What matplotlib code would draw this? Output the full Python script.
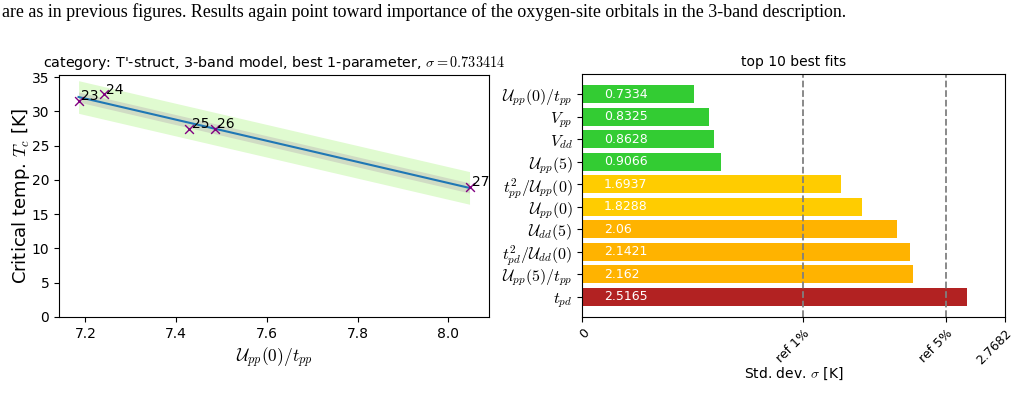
import numpy as np
import matplotlib
matplotlib.use('Agg')
import matplotlib.pyplot as plt

plt.rcParams['mathtext.fontset'] = 'cm'

# scatter data (left panel)
x_vals = [7.185, 7.240, 7.428, 7.485, 8.0465]
tc_vals = [31.55, 32.52, 27.5, 27.5, 19.0]
point_ids = ['23', '24', '25', '26', '27']
sigma = 0.733414
band_wide = 2.38

# best fits (right panel)
fit_labels = [r'$\mathcal{U}_{pp}(0)/t_{pp}$', r'$V_{pp}$', r'$V_{dd}$', r'$\mathcal{U}_{pp}(5)$',
              r'$t_{pp}^2/\mathcal{U}_{pp}(0)$', r'$\mathcal{U}_{pp}(0)$', r'$\mathcal{U}_{dd}(5)$',
              r'$t_{pd}^2/\mathcal{U}_{dd}(0)$', r'$\mathcal{U}_{pp}(5)/t_{pp}$', r'$t_{pd}$']
fit_sigmas = [0.7334, 0.8325, 0.8628, 0.9066, 1.6937, 1.8288, 2.06, 2.1421, 2.162, 2.5165]
fit_texts = ['0.7334', '0.8325', '0.8628', '0.9066', '1.6937', '1.8288', '2.06', '2.1421', '2.162', '2.5165']
fit_colors = ['#33cc33'] * 4 + ['#ffcc00'] * 2 + ['#ffb300'] * 3 + ['#b22222']
ref1 = 1.4463
ref5 = 2.380
xmax = 2.7682

fig = plt.figure(figsize=(10.21, 4.16), dpi=100)

fig.text(0.002, 0.972, 'are as in previous figures. Results again point toward importance of the oxygen-site orbitals in the 3-band description.',
         family='Liberation Serif', fontsize=12.9, va='center', ha='left')

# left panel
ax = fig.add_axes([0.0578, 0.238, 0.4212, 0.582])
xs = np.array(x_vals)
k, b = np.polyfit(xs, tc_vals, 1)
xl = np.array([xs.min(), xs.max()])
yl = k * xl + b
ax.fill_between(xl, yl - band_wide, yl + band_wide, color='#e0fbd0', lw=0)
ax.fill_between(xl, yl - sigma, yl + sigma, color='#d0dcc4', lw=0)
ax.plot(xl, yl, color='#1f77b4', lw=1.5)
ax.scatter(x_vals, tc_vals, marker='x', color='purple', s=40, lw=1, zorder=3)
for xi, yi, lab in zip(x_vals, tc_vals, point_ids):
    ax.annotate(lab, (xi, yi), xytext=(2, 0.5), textcoords='offset points', fontsize=10)
ax.set_ylim(0, 35.34)
ax.set_yticks(range(0, 36, 5))
ax.set_xticks([7.2, 7.4, 7.6, 7.8, 8.0])
ax.set_ylabel(r'Critical temp. $T_c$ [K]', fontsize=13, labelpad=0)
ax.set_xlabel(r'$\mathcal{U}_{pp}(0)/t_{pp}$', fontsize=12.5)
ax.set_title(r"category: T'-struct, 3-band model, best 1-parameter, $\sigma=0.733414$", fontsize=10.3)

# right panel
ax2 = fig.add_axes([0.5703, 0.238, 0.4143, 0.5834])
pos = np.arange(len(fit_sigmas))
ax2.barh(pos, fit_sigmas, height=0.8, color=fit_colors)
for p, t in zip(pos, fit_texts):
    ax2.text(0.14, p, t, color='white', va='center', ha='left', fontsize=9)
ax2.axvline(ref1, color='grey', ls='--', lw=1.3)
ax2.axvline(ref5, color='grey', ls='--', lw=1.3)
ax2.set_yticks(pos)
ax2.set_yticklabels(fit_labels, fontsize=11.5)
ax2.invert_yaxis()
ax2.set_xlim(0, xmax)
ax2.set_xticks([0, ref1, ref5, xmax])
ax2.set_xticklabels(['0', 'ref 1%', 'ref 5%', '2.7682'], rotation=45, ha='right', rotation_mode='anchor', fontsize=9)
ax2.set_xlabel(r'Std. dev. $\sigma$ [K]', fontsize=10, labelpad=-1)
ax2.set_title('top 10 best fits', fontsize=10)

fig.savefig('out.png', dpi=100)
